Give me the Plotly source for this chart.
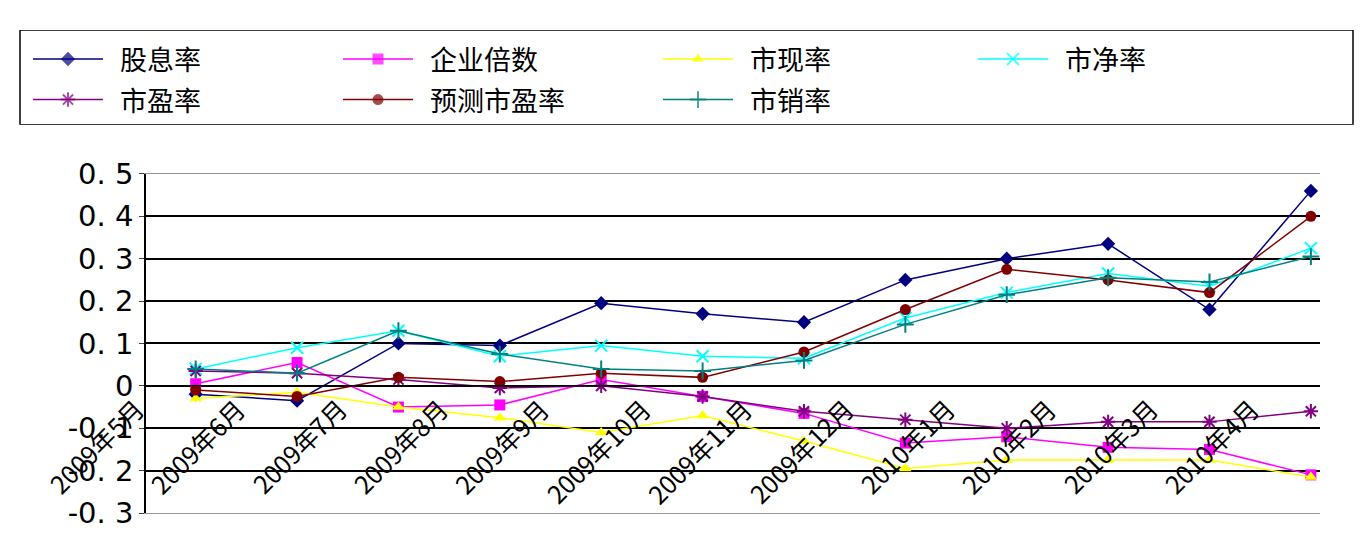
import plotly.graph_objects as go

months = ["2009年5月", "2009年6月", "2009年7月", "2009年8月", "2009年9月", "2009年10月",
          "2009年11月", "2009年12月", "2010年1月", "2010年2月", "2010年3月", "2010年4月"]

dividend_yield = [-0.02, -0.035, 0.10, 0.095, 0.195, 0.17, 0.15, 0.25, 0.30, 0.335, 0.18, 0.46]
ev_multiple = [0.005, 0.055, -0.05, -0.045, 0.015, -0.025, -0.065, -0.135, -0.12, -0.145, -0.15, -0.21]
price_cash = [-0.03, -0.015, -0.05, -0.075, -0.11, -0.07, -0.13, -0.195, -0.175, -0.175, -0.175, -0.215]
price_book = [0.04, 0.09, 0.13, 0.07, 0.095, 0.07, 0.065, 0.16, 0.22, 0.265, 0.235, 0.325]
pe_ratio = [0.035, 0.03, 0.015, -0.005, 0.0, -0.025, -0.06, -0.08, -0.10, -0.085, -0.085, -0.06]
forward_pe = [-0.01, -0.025, 0.02, 0.01, 0.03, 0.02, 0.08, 0.18, 0.275, 0.25, 0.22, 0.40]
price_sales = [0.04, 0.03, 0.13, 0.075, 0.04, 0.035, 0.06, 0.145, 0.215, 0.255, 0.245, 0.305]

y_ticks = [0.5, 0.4, 0.3, 0.2, 0.1, 0, -0.1, -0.2, -0.3]
y_tick_text = ["0. 5", "0. 4", "0. 3", "0. 2", "0. 1", "0", "-0. 1", "-0. 2", "-0. 3"]

series = [
    ("股息率", dividend_yield, "#000080", "diamond"),
    ("企业倍数", ev_multiple, "#FF00FF", "square"),
    ("市现率", price_cash, "#FFFF00", "triangle-up"),
    ("市净率", price_book, "#00FFFF", "x-thin"),
    ("市盈率", pe_ratio, "#800080", "asterisk"),
    ("预测市盈率", forward_pe, "#800000", "circle"),
    ("市销率", price_sales, "#008080", "cross-thin"),
]

FONT = "Noto Sans CJK SC, sans-serif"
x = list(range(len(months)))

# legend slots (pixel layout of the hand-drawn legend box)
leg_cols = [25, 335, 655, 970]
leg_rows = [-35, -77]

fig = go.Figure()
for k, (name, vals, color, sym) in enumerate(series):
    thin = sym.endswith("thin") or sym == "asterisk"
    marker = dict(symbol=sym, size=12 if thin else 11, color=color,
                  line=dict(color=color, width=2 if thin else 0))
    fig.add_trace(go.Scatter(x=x, y=vals, name=name, mode="lines+markers",
                             line=dict(color=color, width=1.5), marker=marker, showlegend=False))
    lx, ly = leg_cols[k % 4], leg_rows[k // 4]
    fig.add_trace(go.Scatter(x=[lx, lx + 35, lx + 70], y=[ly] * 3, xaxis="x2", yaxis="y2",
                             mode="lines+markers", line=dict(color=color, width=1.5),
                             marker=dict(marker, size=[0, marker["size"], 0]),
                             showlegend=False, hoverinfo="skip"))
    fig.add_annotation(x=lx + 85, y=ly, xref="x2", yref="y2", text=name, showarrow=False,
                       xanchor="left", yanchor="middle", font=dict(family=FONT, size=27, color="black"))

for i, m in enumerate(months):
    fig.add_annotation(x=i - 0.42, y=-0.005, text=m, showarrow=False, textangle=-45,
                       xanchor="right", yanchor="top", font=dict(family=FONT, size=25, color="black"))

fig.add_hline(y=0, line=dict(color="black", width=1.5))

# legend frame, x from 12 to 1345 px
fig.add_shape(type="rect", xref="paper", yref="y2", x0=(12 - 10) / 1302, x1=(1345 - 10) / 1302,
              y0=-103, y1=-5, line=dict(color="black", width=1.5))

fig.update_layout(
    width=1365, height=555,
    paper_bgcolor="white", plot_bgcolor="white",
    margin=dict(l=10, r=53, t=5, b=50),
    font=dict(family=FONT, size=22, color="black"),
    showlegend=False,
    xaxis=dict(domain=[128 / 1302, 1], range=[-0.49, 11.09], showticklabels=False, showgrid=False,
               showline=True, linecolor="#999999", mirror=True, zeroline=False),
    yaxis=dict(domain=[0, 0.702], range=[-0.3, 0.5], tickvals=y_ticks, ticktext=y_tick_text,
               gridcolor="black", gridwidth=1.5, showline=True, linecolor="black",
               linewidth=1.5, zeroline=False, ticks="outside", ticklen=5,
               tickfont=dict(family="DejaVu Sans, sans-serif", size=29)),
    xaxis2=dict(domain=[0, 1], range=[10, 1312], visible=False, anchor="y2"),
    yaxis2=dict(domain=[0.804, 1], range=[-103, -5], visible=False, anchor="x2"),
)

fig.write_html("out.html")
